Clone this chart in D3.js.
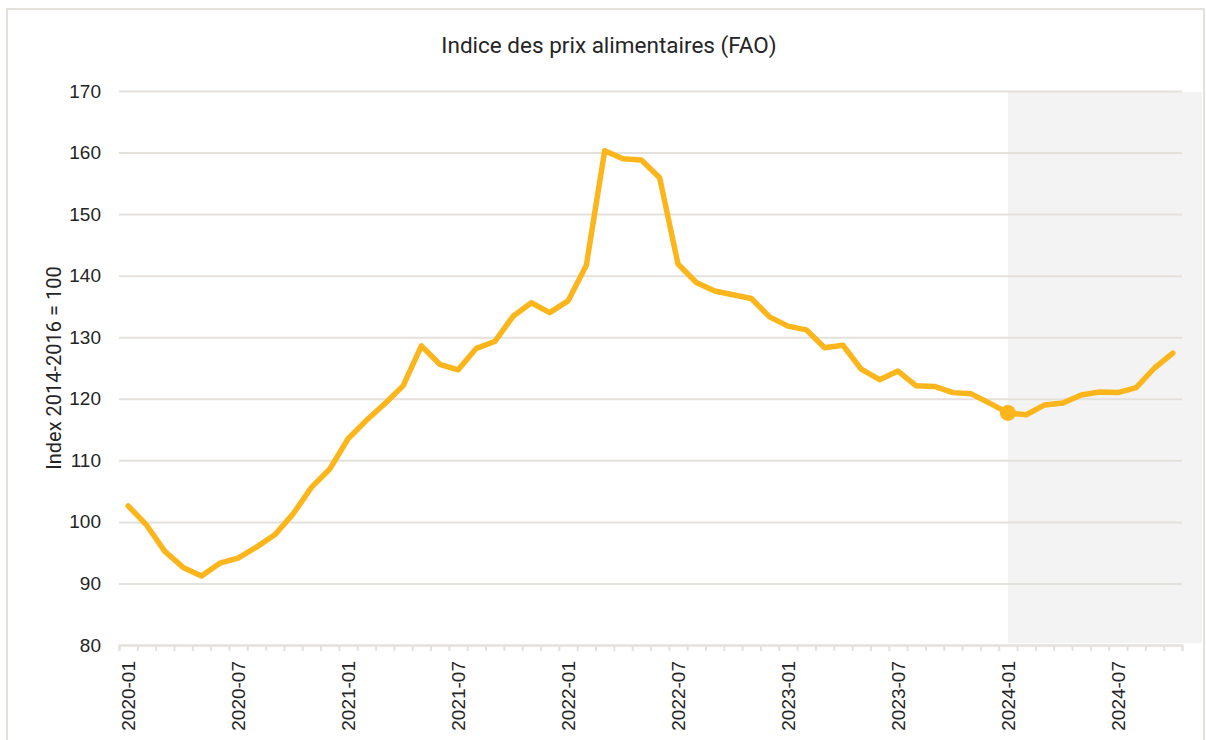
<!DOCTYPE html>
<html>
<head>
<meta charset="utf-8">
<script src="https://cdn.jsdelivr.net/npm/d3@7"></script>
<style>
  body { margin: 0; background: #fff; }
  svg { display: block; font-family: Roboto, "Noto Sans", sans-serif; }
</style>
</head>
<body>
<div id="chart"></div>
<script>
// months 2020-01 .. 2024-10
const months = [];
for (let y = 2020; y <= 2024; y++) {
    for (let m = 1; m <= 12; m++) {
        if (y === 2024 && m > 10) break;
        months.push(y + "-" + String(m).padStart(2, "0"));
    }
}

// FAO food price index
const values = [
    102.6, 99.5, 95.2, 92.6, 91.2, 93.3, 94.1, 95.9, 97.9, 101.3, 105.6, 108.6,
    113.5, 116.5, 119.2, 122.1, 128.6, 125.6, 124.7, 128.2, 129.3, 133.4, 135.6, 134.0,
    135.9, 141.7, 160.3, 159.0, 158.8, 155.9, 141.9, 138.9, 137.5, 136.9, 136.3, 133.3,
    131.8, 131.2, 128.3, 128.7, 124.8, 123.1, 124.5, 122.1, 122.0, 121.0, 120.8, 119.3,
    117.7, 117.4, 119.0, 119.3, 120.6, 121.1, 121.0, 121.8, 125.0, 127.4
];

const yTicks = [80, 90, 100, 110, 120, 130, 140, 150, 160, 170];
const xLabels = ["2020-01", "2020-07", "2021-01", "2021-07", "2022-01", "2022-07",
                 "2023-01", "2023-07", "2024-01", "2024-07"];
const highlightStart = "2024-01";

const W = 1206, H = 740;
const margin = {top: 91, right: 24, bottom: 95, left: 119};
const width = 1182 - margin.left;
const height = 645 - margin.top;

const gridColor = "#e4e1dd";
const lineColor = "#fcb61c";
const textColor = "#252525";

const svg = d3.select("#chart").append("svg")
    .attr("width", W)
    .attr("height", H);

// outer frame
svg.append("rect")
    .attr("x", 7).attr("y", 9)
    .attr("width", W - 9).attr("height", H + 10)
    .attr("fill", "none")
    .attr("stroke", gridColor)
    .attr("stroke-width", 2);

svg.append("text")
    .attr("x", 609).attr("y", 53)
    .attr("text-anchor", "middle")
    .attr("fill", textColor)
    .style("font-size", "22.5px")
    .text("Indice des prix alimentaires (FAO)");

const g = svg.append("g")
    .attr("transform", "translate(" + margin.left + "," + margin.top + ")");

const x = d3.scaleBand().domain(months).range([0, width]);
const xi = d3.scaleLinear().domain([0, months.length]).range([0, width]);
const y = d3.scaleLinear().domain([80, 170]).range([height, 0]);

// shaded area from 2024-01
const sx = x(highlightStart) + x.bandwidth() / 2;
g.append("rect")
    .attr("x", sx)
    .attr("y", 1)
    .attr("width", 1202 - margin.left - sx)
    .attr("height", height - 3)
    .attr("fill", "#f3f3f3");

// y grid + labels
const yAxis = g.append("g")
    .call(d3.axisLeft(y).tickValues(yTicks).tickSize(-width).tickPadding(18));
yAxis.select(".domain").remove();
yAxis.selectAll("line").attr("stroke", gridColor).attr("stroke-width", 2);
yAxis.selectAll("text")
    .attr("fill", textColor)
    .style("font-size", "19px");

// x tick marks at month boundaries
const xTickAxis = g.append("g")
    .attr("transform", "translate(0," + height + ")")
    .call(d3.axisBottom(xi).tickValues(d3.range(months.length + 1)).tickFormat("").tickSize(6));
xTickAxis.selectAll("line").attr("stroke", gridColor).attr("stroke-width", 2);
xTickAxis.select(".domain").attr("stroke", gridColor).attr("stroke-width", 2);

// x labels
const xAxis = g.append("g")
    .attr("transform", "translate(0," + height + ")")
    .call(d3.axisBottom(x).tickValues(xLabels).tickSize(0));
xAxis.select(".domain").remove();
xAxis.selectAll("text")
    .attr("transform", "rotate(-90)")
    .attr("x", -16)
    .attr("y", 0)
    .attr("dy", "0.35em")
    .style("text-anchor", "end")
    .style("font-size", "19px")
    .attr("fill", textColor);

// y axis title
svg.append("text")
    .attr("transform", "translate(61," + (margin.top + height / 2) + ")rotate(-90)")
    .attr("text-anchor", "middle")
    .attr("fill", textColor)
    .style("font-size", "20px")
    .text("Index 2014-2016 = 100");

// line
const line = d3.line()
    .x((d, i) => x(months[i]) + x.bandwidth() / 2)
    .y(d => y(d));

g.append("path")
    .datum(values)
    .attr("fill", "none")
    .attr("stroke", lineColor)
    .attr("stroke-width", 5.5)
    .attr("stroke-linejoin", "round")
    .attr("stroke-linecap", "round")
    .attr("d", line);

const hi = months.indexOf(highlightStart);
g.append("circle")
    .attr("cx", x(highlightStart) + x.bandwidth() / 2)
    .attr("cy", y(values[hi]))
    .attr("r", 8)
    .attr("fill", lineColor);
</script>
</body>
</html>
